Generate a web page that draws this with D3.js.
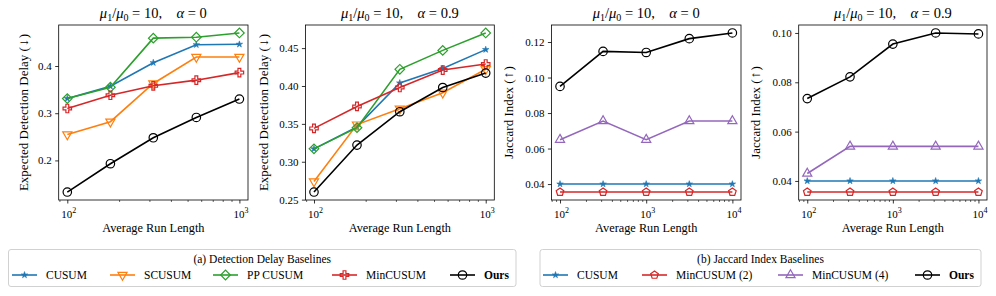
<!DOCTYPE html>
<html>
<head>
<meta charset="utf-8">
<script src="https://cdn.jsdelivr.net/npm/d3@7"></script>
<style>
  body { margin: 0; background: #fff; }
  svg { display: block; }
  text { font-family: "Liberation Serif", "DejaVu Serif", serif; fill: #000; }
</style>
</head>
<body>
<svg id="fig" width="996" height="296" font-family="Liberation Serif"></svg>
<script>
// average run length (x values)
var arlDelay = [100, 178, 316, 562, 1000];
var arlJaccard = [100, 316, 1000, 3162, 10000];

// (a) detection delay, alpha = 0
var cusumDelayA0    = [0.331, 0.357, 0.407, 0.445, 0.446];
var scusumDelayA0   = [0.255, 0.282, 0.363, 0.419, 0.419];
var ppcusumDelayA0  = [0.331, 0.355, 0.459, 0.461, 0.470];
var mincusumDelayA0 = [0.310, 0.338, 0.358, 0.370, 0.386];
var oursDelayA0     = [0.133, 0.193, 0.248, 0.291, 0.330];

// (a) detection delay, alpha = 0.9
var cusumDelayA9    = [0.317, 0.346, 0.404, 0.423, 0.448];
var scusumDelayA9   = [0.274, 0.349, 0.370, 0.391, 0.422];
var ppcusumDelayA9  = [0.317, 0.345, 0.422, 0.447, 0.470];
var mincusumDelayA9 = [0.344, 0.373, 0.398, 0.421, 0.429];
var oursDelayA9     = [0.260, 0.322, 0.366, 0.398, 0.417];

// (b) jaccard index, alpha = 0
var cusumJacA0     = [0.040, 0.040, 0.040, 0.040, 0.040];
var mincusum2JacA0 = [0.0355, 0.0355, 0.0355, 0.0355, 0.0355];
var mincusum4JacA0 = [0.065, 0.0755, 0.065, 0.0755, 0.0755];
var oursJacA0      = [0.095, 0.1147, 0.1141, 0.1219, 0.1251];

// (b) jaccard index, alpha = 0.9
var cusumJacA9     = [0.040, 0.040, 0.040, 0.040, 0.040];
var mincusum2JacA9 = [0.0355, 0.0355, 0.0355, 0.0355, 0.0355];
var mincusum4JacA9 = [0.043, 0.054, 0.054, 0.054, 0.054];
var oursJacA9      = [0.0734, 0.0822, 0.0955, 0.100, 0.0996];

// tick values / labels
var yTicksDelayA0 = [0.2, 0.3, 0.4];
var yLabelsDelayA0 = ["0.2", "0.3", "0.4"];
var yTicksDelayA9 = [0.25, 0.30, 0.35, 0.40, 0.45];
var yLabelsDelayA9 = ["0.25", "0.30", "0.35", "0.40", "0.45"];
var yTicksJacA0 = [0.04, 0.06, 0.08, 0.10, 0.12];
var yLabelsJacA0 = ["0.04", "0.06", "0.08", "0.10", "0.12"];
var yTicksJacA9 = [0.04, 0.06, 0.08, 0.10];
var yLabelsJacA9 = ["0.04", "0.06", "0.08", "0.10"];
var xTicksDelay = [100, 1000];
var xTicksJac = [100, 1000, 10000];

var legendA = ["CUSUM", "SCUSUM", "PP CUSUM", "MinCUSUM", "Ours"];
var legendB = ["CUSUM", "MinCUSUM (2)", "MinCUSUM (4)", "Ours"];

var colors = {
  cusum: "#1f77b4", scusum: "#ff7f0e", pp: "#2ca02c",
  min: "#d62728", min4: "#9467bd", ours: "#000000"
};

var SERIF = "Liberation Serif";
var svg = d3.select("#fig");

// marker shapes
function pentagon(r) {
  var pts = d3.range(5).map(function(i) {
    var a = -Math.PI / 2 + i * 2 * Math.PI / 5;
    return [r * Math.cos(a), r * Math.sin(a)];
  });
  return d3.line()(pts) + "Z";
}
var markers = {
  star:  { d: d3.symbol().type(d3.symbolStar).size(13)(), fill: true, rot: 0, sw: 0.6 },
  tdown: { d: d3.symbol().type(d3.symbolTriangle).size(36)(), fill: false, rot: 180, sw: 1.2 },
  tup:   { d: d3.symbol().type(d3.symbolTriangle).size(36)(), fill: false, rot: 0, sw: 1.2 },
  diam:  { d: d3.symbol().type(d3.symbolSquare).size(46)(), fill: false, rot: 45, sw: 1.2 },
  plus:  { d: d3.symbol().type(d3.symbolCross).size(40)(), fill: false, rot: 0, sw: 1.2 },
  circ:  { d: d3.symbol().type(d3.symbolCircle).size(56)(), fill: false, rot: 0, sw: 1.2 },
  pent:  { d: pentagon(4.0), fill: false, rot: 0, sw: 1.2 }
};

function drawMarker(g, kind, color, x, y) {
  var m = markers[kind];
  g.append("path")
    .attr("d", m.d)
    .attr("transform", "translate(" + x + "," + y + ") rotate(" + m.rot + ")")
    .attr("fill", m.fill ? color : "none")
    .attr("stroke", color)
    .attr("stroke-width", m.sw);
}

function txt(g, x, y, size) {
  return g.append("text").attr("x", x).attr("y", y)
    .attr("font-family", SERIF).attr("font-size", size + "px").attr("fill", "#000");
}

function panel(opt) {
  var g = svg.append("g");
  var x = d3.scaleLog().range([opt.x0, opt.x1]);
  var lo = Math.log10(d3.min(opt.xs)), hi = Math.log10(d3.max(opt.xs));
  var pad = (hi - lo) * 0.05;
  x.domain([Math.pow(10, lo - pad), Math.pow(10, hi + pad)]);

  var all = d3.merge(opt.series.map(function(s) { return s.values; }));
  var ymin = d3.min(all), ymax = d3.max(all), yp = (ymax - ymin) * 0.05;
  var y = d3.scaleLinear().domain([ymin - yp, ymax + yp]).range([opt.y1, opt.y0]);

  // y axis
  var yAxis = d3.axisLeft(y).tickValues(opt.yTicks)
    .tickFormat(function(d, i) { return opt.yLabels[i]; })
    .tickSize(3.5).tickPadding(3.5);
  var ya = g.append("g").attr("transform", "translate(" + opt.x0 + ",0)").call(yAxis);
  ya.attr("font-family", SERIF);
  ya.select(".domain").remove();
  ya.selectAll("text").attr("font-family", SERIF).attr("font-size", "11px").attr("fill", "#000");
  ya.selectAll("line").attr("stroke", "#000").attr("stroke-width", 0.8);

  // x axis, major + minor log ticks
  var minor = [];
  var d = x.domain();
  for (var e = Math.floor(Math.log10(d[0])); e <= Math.ceil(Math.log10(d[1])); e++) {
    for (var k = 2; k <= 9; k++) {
      var v = k * Math.pow(10, e);
      if (v >= d[0] && v <= d[1]) minor.push(v);
    }
  }
  var xm = g.append("g").attr("transform", "translate(0," + opt.y1 + ")")
    .call(d3.axisBottom(x).tickValues(minor).tickFormat("").tickSize(2));
  xm.select(".domain").remove();
  xm.selectAll("line").attr("stroke", "#000").attr("stroke-width", 0.6);

  var xa = g.append("g").attr("transform", "translate(0," + opt.y1 + ")")
    .call(d3.axisBottom(x).tickValues(opt.xTicks).tickFormat("").tickSize(3.5));
  xa.attr("font-family", SERIF);
  xa.select(".domain").remove();
  xa.selectAll("line").attr("stroke", "#000").attr("stroke-width", 0.8);
  xa.selectAll(".tick").each(function(v) {
    var t = txt(d3.select(this), 1, 18, 11).attr("text-anchor", "middle");
    t.append("tspan").text("10");
    t.append("tspan").attr("dy", -5).attr("font-size", "8px")
      .text(String(Math.round(Math.log10(v))));
  });

  // frame
  g.append("rect")
    .attr("x", opt.x0).attr("y", opt.y0)
    .attr("width", opt.x1 - opt.x0).attr("height", opt.y1 - opt.y0)
    .attr("fill", "none").attr("stroke", "#000").attr("stroke-width", 0.8);

  // series
  var line = d3.line().x(function(p) { return x(p[0]); }).y(function(p) { return y(p[1]); });
  opt.series.forEach(function(s) {
    var pts = opt.xs.map(function(xv, i) { return [xv, s.values[i]]; });
    g.append("path").attr("d", line(pts))
      .attr("fill", "none").attr("stroke", s.color).attr("stroke-width", 1.6);
    pts.forEach(function(p) { drawMarker(g, s.marker, s.color, x(p[0]), y(p[1])); });
  });

  // title
  var cx = (opt.x0 + opt.x1) / 2;
  var t = txt(g, cx, 18, 14.5).attr("text-anchor", "middle").attr("xml:space", "preserve");
  t.append("tspan").attr("font-style", "italic").text("μ");
  t.append("tspan").attr("font-size", "10px").attr("dy", 3).text("1");
  t.append("tspan").attr("dy", -3).text("/");
  t.append("tspan").attr("font-style", "italic").text("μ");
  t.append("tspan").attr("font-size", "10px").attr("dy", 3).text("0");
  t.append("tspan").attr("dy", -3).text(" = 10,    ");
  t.append("tspan").attr("font-style", "italic").text("α");
  t.append("tspan").text(" = " + opt.alpha);

  // axis labels
  txt(g, cx, 232, 12.3).attr("text-anchor", "middle").text("Average Run Length");
  var yl = g.append("text")
    .attr("transform", "translate(" + opt.ylabX + "," + ((opt.y0 + opt.y1) / 2) + ") rotate(-90)")
    .attr("text-anchor", "middle").attr("font-family", SERIF).attr("font-size", "13px")
    .attr("fill", "#000");
  yl.append("tspan").text(opt.ylabel + " (");
  yl.append("tspan").attr("font-family", "DejaVu Serif").attr("font-size", "10.5px").text(opt.arrow);
  yl.append("tspan").text(")");
}

var delayLabel = "Expected Detection Delay";
var jacLabel = "Jaccard Index";

panel({
  x0: 58.7, x1: 248, y0: 25, y1: 200, xs: arlDelay, xTicks: xTicksDelay,
  yTicks: yTicksDelayA0, yLabels: yLabelsDelayA0, alpha: "0",
  ylabel: delayLabel, arrow: "\u2193", ylabX: 28,
  series: [
    { values: cusumDelayA0, color: colors.cusum, marker: "star" },
    { values: scusumDelayA0, color: colors.scusum, marker: "tdown" },
    { values: ppcusumDelayA0, color: colors.pp, marker: "diam" },
    { values: mincusumDelayA0, color: colors.min, marker: "plus" },
    { values: oursDelayA0, color: colors.ours, marker: "circ" }
  ]
});
panel({
  x0: 305.4, x1: 494.3, y0: 25, y1: 200, xs: arlDelay, xTicks: xTicksDelay,
  yTicks: yTicksDelayA9, yLabels: yLabelsDelayA9, alpha: "0.9",
  ylabel: delayLabel, arrow: "\u2193", ylabX: 268,
  series: [
    { values: cusumDelayA9, color: colors.cusum, marker: "star" },
    { values: scusumDelayA9, color: colors.scusum, marker: "tdown" },
    { values: ppcusumDelayA9, color: colors.pp, marker: "diam" },
    { values: mincusumDelayA9, color: colors.min, marker: "plus" },
    { values: oursDelayA9, color: colors.ours, marker: "circ" }
  ]
});
panel({
  x0: 551.4, x1: 741, y0: 25, y1: 200, xs: arlJaccard, xTicks: xTicksJac,
  yTicks: yTicksJacA0, yLabels: yLabelsJacA0, alpha: "0",
  ylabel: jacLabel, arrow: "\u2191", ylabX: 513,
  series: [
    { values: cusumJacA0, color: colors.cusum, marker: "star" },
    { values: mincusum2JacA0, color: colors.min, marker: "pent" },
    { values: mincusum4JacA0, color: colors.min4, marker: "tup" },
    { values: oursJacA0, color: colors.ours, marker: "circ" }
  ]
});
panel({
  x0: 798.7, x1: 987, y0: 25, y1: 200, xs: arlJaccard, xTicks: xTicksJac,
  yTicks: yTicksJacA9, yLabels: yLabelsJacA9, alpha: "0.9",
  ylabel: jacLabel, arrow: "\u2191", ylabX: 760,
  series: [
    { values: cusumJacA9, color: colors.cusum, marker: "star" },
    { values: mincusum2JacA9, color: colors.min, marker: "pent" },
    { values: mincusum4JacA9, color: colors.min4, marker: "tup" },
    { values: oursJacA9, color: colors.ours, marker: "circ" }
  ]
});

// legends
function legend(opt) {
  var g = svg.append("g");
  g.append("rect").attr("x", opt.x0).attr("y", 249.5)
    .attr("width", opt.x1 - opt.x0).attr("height", 37).attr("rx", 2.5)
    .attr("fill", "#fff").attr("stroke", "#cccccc").attr("stroke-width", 0.9);
  txt(g, (opt.x0 + opt.x1) / 2, 263, 11.5).attr("text-anchor", "middle").text(opt.title);
  opt.items.forEach(function(it, i) {
    var hx = opt.hx[i];
    g.append("line").attr("x1", hx).attr("x2", hx + 25).attr("y1", 275).attr("y2", 275)
      .attr("stroke", it.color).attr("stroke-width", 1.6);
    drawMarker(g, it.marker, it.color, hx + 12.5, 275);
    txt(g, hx + 34, 279, 11.5)
      .attr("font-weight", it.label === "Ours" ? "bold" : "normal").text(it.label);
  });
}

legend({
  x0: 8.5, x1: 516, title: "(a) Detection Delay Baselines",
  hx: [12, 110, 213, 332, 450],
  items: [
    { label: legendA[0], color: colors.cusum, marker: "star" },
    { label: legendA[1], color: colors.scusum, marker: "tdown" },
    { label: legendA[2], color: colors.pp, marker: "diam" },
    { label: legendA[3], color: colors.min, marker: "plus" },
    { label: legendA[4], color: colors.ours, marker: "circ" }
  ]
});
legend({
  x0: 540, x1: 981, title: "(b) Jaccard Index Baselines",
  hx: [543, 642, 778, 915],
  items: [
    { label: legendB[0], color: colors.cusum, marker: "star" },
    { label: legendB[1], color: colors.min, marker: "pent" },
    { label: legendB[2], color: colors.min4, marker: "tup" },
    { label: legendB[3], color: colors.ours, marker: "circ" }
  ]
});
</script>
</body>
</html>
